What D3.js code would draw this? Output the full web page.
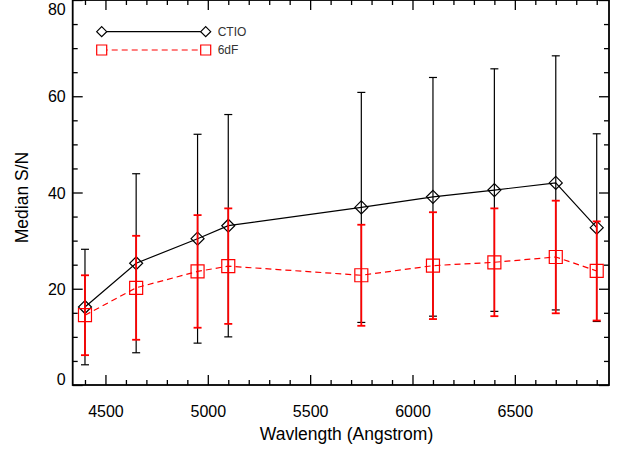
<!DOCTYPE html>
<html>
<head>
<meta charset="utf-8">
<script src="https://cdn.jsdelivr.net/npm/d3@7"></script>
<style>
  body { margin: 0; background: #fff; }
  svg text { font-family: "Liberation Sans", Arial, Helvetica, sans-serif; }
</style>
</head>
<body>
<div id="chart"></div>
<script>
// wavelengths of the bins
const wave = [4400, 4650, 4950, 5100, 5750, 6100, 6400, 6700, 6900];

// CTIO median S/N and error
const ctio = [16.2, 25.3, 30.4, 33.1, 36.9, 39.1, 40.5, 42.0, 32.7];
const ctioErr = [12.0, 18.6, 21.7, 23.1, 23.9, 24.8, 25.2, 26.4, 19.5];

// 6dF median S/N and error
const sixdf = [14.5, 20.2, 23.6, 24.7, 22.8, 24.8, 25.5, 26.6, 23.7];
const sixdfErr = [8.3, 10.8, 11.7, 12.0, 10.5, 11.1, 11.2, 11.7, 10.3];

const yTicks = [0, 20, 40, 60, 80];
const xTicks = [4500, 5000, 5500, 6000, 6500];

const W = 621, H = 452;
const pLeft = 72.7, pRight = 609, pTop = 0, pBottom = 385;

const svg = d3.select('#chart').append('svg')
    .attr('width', W)
    .attr('height', H);

const x = d3.scaleLinear().domain([4340, 6960]).range([pLeft, pRight]);
const y = d3.scaleLinear().domain([0, 80]).range([pBottom, pTop]);

// frame + ticks (IDL style, ticks pointing in)
function minor(lo, hi, step) {
    return d3.range(lo, hi + step / 2, step);
}
const yMinor = minor(0, 80, 5).filter(v => v % 20);
const xMinor = minor(4400, 6900, 100).filter(v => v % 500);

const axes = svg.append('g');

const yAxis = axes.append('g').attr('transform', `translate(${pLeft},0)`)
    .call(d3.axisLeft(y).tickValues(yTicks).tickSize(-10).tickPadding(7));
axes.append('g').attr('transform', `translate(${pRight},0)`)
    .call(d3.axisRight(y).tickValues(yTicks).tickSize(-10).tickFormat(''));
axes.append('g').attr('transform', `translate(${pLeft},0)`)
    .call(d3.axisLeft(y).tickValues(yMinor).tickSize(-5).tickFormat(''));
axes.append('g').attr('transform', `translate(${pRight},0)`)
    .call(d3.axisRight(y).tickValues(yMinor).tickSize(-5).tickFormat(''));

const xAxis = axes.append('g').attr('transform', `translate(0,${pBottom})`)
    .call(d3.axisBottom(x).tickValues(xTicks).tickSize(-10).tickPadding(21).tickFormat(d3.format('d')));
axes.append('g').attr('transform', `translate(0,${pTop})`)
    .call(d3.axisTop(x).tickValues(xTicks).tickSize(-10).tickFormat(''));
axes.append('g').attr('transform', `translate(0,${pBottom})`)
    .call(d3.axisBottom(x).tickValues(xMinor).tickSize(-5).tickFormat(''));
axes.append('g').attr('transform', `translate(0,${pTop})`)
    .call(d3.axisTop(x).tickValues(xMinor).tickSize(-5).tickFormat(''));

axes.selectAll('.domain').remove();
axes.selectAll('.tick line').attr('stroke', '#000').attr('stroke-width', 1.3);
axes.selectAll('.tick text')
    .attr('fill', '#000')
    .style('font-size', '16px');

// end labels stay inside the frame
yAxis.selectAll('.tick text').attr('dy', d => d === 80 ? '14px' : d === 0 ? '-0.5px' : '0.35em');
xAxis.selectAll('.tick text').attr('dy', '0.71em');

// frame
svg.append('rect')
    .attr('x', pLeft).attr('y', pTop)
    .attr('width', pRight - pLeft).attr('height', pBottom - pTop)
    .attr('fill', 'none')
    .attr('stroke', '#000')
    .attr('stroke-width', 1.8);

// axis titles
svg.append('text')
    .attr('x', 346.5)
    .attr('y', 440)
    .attr('text-anchor', 'middle')
    .style('font-size', '17.5px')
    .text('Wavlength (Angstrom)');

svg.append('text')
    .attr('transform', 'translate(28,197.5) rotate(-90)')
    .attr('text-anchor', 'middle')
    .style('font-size', '17.5px')
    .text('Median S/N');

const plot = svg.append('g');

function errorBars(vals, errs, color, width) {
    const g = plot.append('g').attr('stroke', color).attr('stroke-width', width);
    wave.forEach((w, i) => {
        const cx = x(w);
        const hi = y(vals[i] + errs[i]), lo = y(vals[i] - errs[i]);
        g.append('line').attr('x1', cx).attr('x2', cx).attr('y1', hi).attr('y2', lo);
        g.append('line').attr('x1', cx - 4).attr('x2', cx + 4).attr('y1', hi).attr('y2', hi);
        g.append('line').attr('x1', cx - 4).attr('x2', cx + 4).attr('y1', lo).attr('y2', lo);
    });
}

const line = d3.line().x(d => x(d[0])).y(d => y(d[1]));
const diamond = 'M0,-6.5L6.5,0L0,6.5L-6.5,0Z';
const square = 'M-6.5,-6.5H6.5V6.5H-6.5Z';

// CTIO
plot.append('path')
    .datum(wave.map((w, i) => [w, ctio[i]]))
    .attr('d', line)
    .attr('fill', 'none')
    .attr('stroke', '#000')
    .attr('stroke-width', 1.2);
errorBars(ctio, ctioErr, '#000', 1.2);
plot.selectAll('.dia')
    .data(wave.map((w, i) => [w, ctio[i]]))
    .enter().append('path')
    .attr('transform', d => `translate(${x(d[0])},${y(d[1])})`)
    .attr('d', diamond)
    .attr('fill', 'none')
    .attr('stroke', '#000')
    .attr('stroke-width', 1.2);

// 6dF
plot.append('path')
    .datum(wave.map((w, i) => [w, sixdf[i]]))
    .attr('d', line)
    .attr('fill', 'none')
    .attr('stroke', '#f00')
    .attr('stroke-width', 1.2)
    .attr('stroke-dasharray', '6,4');
errorBars(sixdf, sixdfErr, '#f00', 1.8);
plot.selectAll('.sq')
    .data(wave.map((w, i) => [w, sixdf[i]]))
    .enter().append('path')
    .attr('transform', d => `translate(${x(d[0])},${y(d[1])})`)
    .attr('d', square)
    .attr('fill', 'none')
    .attr('stroke', '#f00')
    .attr('stroke-width', 1.2);

// legend
const legend = svg.append('g');
const legendItems = [
    { name: 'CTIO', color: '#000', dash: null, shape: 'M0,-5L5,0L0,5L-5,0Z', y: 31.7 },
    { name: '6dF', color: '#f00', dash: '6,4', shape: 'M-5,-5H5V5H-5Z', y: 50 }
];
legendItems.forEach(it => {
    legend.append('line')
        .attr('x1', 101.7).attr('x2', 205.7)
        .attr('y1', it.y).attr('y2', it.y)
        .attr('stroke', it.color)
        .attr('stroke-width', 1.2)
        .attr('stroke-dasharray', it.dash);
    [101.7, 205.7].forEach(px => {
        legend.append('path')
            .attr('transform', `translate(${px},${it.y})`)
            .attr('d', it.shape)
            .attr('fill', '#fff')
            .attr('stroke', it.color)
            .attr('stroke-width', 1.2);
    });
    legend.append('text')
        .attr('x', 217.7).attr('y', it.y)
        .attr('dy', '0.35em')
        .attr('fill', '#333')
        .style('font-size', '12px')
        .text(it.name);
});
</script>
</body>
</html>
